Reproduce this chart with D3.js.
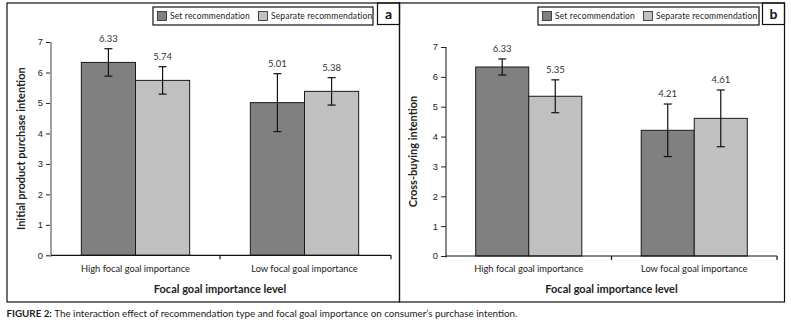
<!DOCTYPE html>
<html>
<head>
<meta charset="utf-8">
<script src="https://cdn.jsdelivr.net/npm/d3@7"></script>
<style>
  body { margin: 0; background: #fff; }
  svg { display: block; font-family: Lato, "Noto Sans", sans-serif; }
  .tick-label { font-size: 9.3px; fill: #222; }
  .axis-title { font-size: 11px; font-weight: bold; fill: #222; }
  .value-label { font-size: 9.5px; fill: #333; }
  .legend-text { font-size: 8.5px; fill: #222; letter-spacing: 0.15px; }
  .caption { font-size: 9.8px; fill: #222; }
</style>
</head>
<body>
<svg id="chart" width="791" height="326"></svg>
<script>
const categories = ["High focal goal importance", "Low focal goal importance"];
const seriesNames = ["Set recommendation", "Separate recommendation"];
const seriesColors = ["#808080", "#c0c0c0"];
const yTicks = [0, 1, 2, 3, 4, 5, 6, 7];

// panel a: initial product purchase intention
const purchaseSet = [6.33, 5.01];
const purchaseSeparate = [5.74, 5.38];
const purchaseSetErr = [0.45, 0.95];
const purchaseSeparateErr = [0.45, 0.45];

// panel b: cross-buying intention
const crossSet = [6.33, 4.21];
const crossSeparate = [5.35, 4.61];
const crossSetErr = [0.27, 0.88];
const crossSeparateErr = [0.55, 0.95];

const svg = d3.select("#chart");

const panels = [
  {
    letter: "a", yTitle: "Initial product purchase intention",
    box: { x0: 7, x1: 399.5, y0: 3, y1: 302 },
    legend: { x: 153, w: 220 },
    xRange: [51, 389], axisEnd: 391, yRange: [255.3, 42], yAxisColor: "#a0a0a0", yAxisWidth: 2,
    values: [purchaseSet, purchaseSeparate], errors: [purchaseSetErr, purchaseSeparateErr]
  },
  {
    letter: "b", yTitle: "Cross-buying intention",
    box: { x0: 399.5, x1: 784.5, y0: 3, y1: 302 },
    legend: { x: 538, w: 221 },
    xRange: [446, 777], axisEnd: 777, yRange: [256, 47], yAxisColor: "#111", yAxisWidth: 1,
    values: [crossSet, crossSeparate], errors: [crossSetErr, crossSeparateErr]
  }
];

panels.forEach(drawPanel);

function drawPanel(p) {
  const g = svg.append("g");

  // frame
  g.append("rect")
    .attr("x", p.box.x0).attr("y", p.box.y0)
    .attr("width", p.box.x1 - p.box.x0).attr("height", p.box.y1 - p.box.y0)
    .attr("fill", "none").attr("stroke", "#111").attr("stroke-width", 1.2);

  // panel letter box in top right corner
  const lw = 22, lh = 21.5;
  g.append("rect")
    .attr("x", p.box.x1 - lw).attr("y", p.box.y0)
    .attr("width", lw).attr("height", lh)
    .attr("fill", "none").attr("stroke", "#111").attr("stroke-width", 1.2);
  g.append("text")
    .attr("x", p.box.x1 - lw / 2).attr("y", p.box.y0 + 15.5)
    .attr("text-anchor", "middle")
    .attr("font-size", 14).attr("font-weight", "bold").attr("fill", "#111")
    .text(p.letter);

  // legend
  const leg = g.append("g").attr("transform", `translate(${p.legend.x}, 7)`);
  leg.append("rect")
    .attr("width", p.legend.w).attr("height", 18)
    .attr("fill", "none").attr("stroke", "#111").attr("stroke-width", 1.2);
  const legItems = leg.selectAll(".leg-item")
    .data(seriesNames)
    .enter()
    .append("g")
    .attr("transform", (d, i) => `translate(${4.5 + i * 101}, 0)`);
  legItems.append("rect")
    .attr("y", 4.5).attr("width", 9).attr("height", 9)
    .attr("fill", (d, i) => seriesColors[i])
    .attr("stroke", "#222").attr("stroke-width", 0.8);
  legItems.append("text")
    .attr("class", "legend-text")
    .attr("x", 12.5).attr("y", 12)
    .text(d => d);

  const x = d3.scaleBand().domain(categories).range(p.xRange);
  const xInner = d3.scaleBand().domain(seriesNames).range([0, x.bandwidth()]).paddingOuter(0.56);
  const y = d3.scaleLinear().domain([0, 7]).range(p.yRange);

  // y axis
  const yAxis = g.append("g").attr("transform", `translate(${p.xRange[0]}, 0)`)
    .call(d3.axisLeft(y).tickValues(yTicks).tickSize(5).tickPadding(3).tickFormat(d3.format("d")));
  yAxis.select(".domain").remove();
  yAxis.selectAll(".tick line").attr("stroke", "#222");
  yAxis.selectAll(".tick text").attr("class", "tick-label").attr("font-family", null).attr("font-size", null);
  g.append("line")
    .attr("x1", p.xRange[0]).attr("x2", p.xRange[0])
    .attr("y1", p.yRange[1]).attr("y2", p.yRange[0] + 1.5)
    .attr("stroke", p.yAxisColor).attr("stroke-width", p.yAxisWidth);

  // bars
  const barData = [];
  categories.forEach((c, ci) => {
    seriesNames.forEach((s, si) => {
      barData.push({ c, s, si, v: p.values[si][ci], e: p.errors[si][ci] });
    });
  });

  const barG = g.append("g");
  barG.selectAll("rect")
    .data(barData)
    .enter()
    .append("rect")
    .attr("x", d => x(d.c) + xInner(d.s))
    .attr("y", d => y(d.v))
    .attr("width", xInner.bandwidth())
    .attr("height", d => y(0) - y(d.v))
    .attr("fill", d => seriesColors[d.si])
    .attr("stroke", "#1a1a1a").attr("stroke-width", 1);

  // error bars
  const errG = g.append("g").attr("stroke", "#111").attr("stroke-width", 1.2);
  barData.forEach(d => {
    const cx = x(d.c) + xInner(d.s) + xInner.bandwidth() / 2;
    const top = y(d.v + d.e), bot = y(d.v - d.e);
    errG.append("line").attr("x1", cx).attr("x2", cx).attr("y1", top).attr("y2", bot);
    errG.append("line").attr("x1", cx - 4).attr("x2", cx + 4).attr("y1", top).attr("y2", top);
    errG.append("line").attr("x1", cx - 4).attr("x2", cx + 4).attr("y1", bot).attr("y2", bot);
  });

  // value labels
  g.append("g").selectAll("text")
    .data(barData)
    .enter()
    .append("text")
    .attr("class", "value-label")
    .attr("text-anchor", "middle")
    .attr("x", d => x(d.c) + xInner(d.s) + xInner.bandwidth() / 2)
    .attr("y", d => y(d.v + d.e) - 7)
    .text(d => d.v.toFixed(2));

  // x axis
  const xAxisY = p.yRange[0];
  g.append("line")
    .attr("x1", p.xRange[0]).attr("x2", p.axisEnd)
    .attr("y1", xAxisY).attr("y2", xAxisY)
    .attr("stroke", "#111").attr("stroke-width", 1.2);
  const xTickPos = [x(categories[0]) + x.bandwidth(), p.axisEnd];
  xTickPos.forEach(tx => {
    g.append("line")
      .attr("x1", tx).attr("x2", tx)
      .attr("y1", xAxisY).attr("y2", xAxisY + 4)
      .attr("stroke", "#111").attr("stroke-width", 1.2);
  });
  g.append("g").selectAll("text")
    .data(categories)
    .enter()
    .append("text")
    .attr("class", "tick-label")
    .attr("text-anchor", "middle")
    .attr("x", d => x(d) + x.bandwidth() / 2)
    .attr("y", 271.7)
    .text(d => d);

  // axis titles
  g.append("text")
    .attr("class", "axis-title")
    .attr("text-anchor", "middle")
    .attr("x", (p.xRange[0] + p.xRange[1]) / 2)
    .attr("y", 293)
    .text("Focal goal importance level");

  g.append("text")
    .attr("class", "axis-title")
    .attr("text-anchor", "middle")
    .attr("transform", `translate(${p.box.x0 + 17.5}, ${(p.yRange[0] + p.yRange[1]) / 2}) rotate(-90)`)
    .text(p.yTitle);
}

// caption
const cap = svg.append("text")
  .attr("class", "caption")
  .attr("x", 6.5).attr("y", 317);
cap.append("tspan").attr("font-weight", "bold").text("FIGURE 2: ");
cap.append("tspan").text("The interaction effect of recommendation type and focal goal importance on consumer\u2019s purchase intention.");
</script>
</body>
</html>
